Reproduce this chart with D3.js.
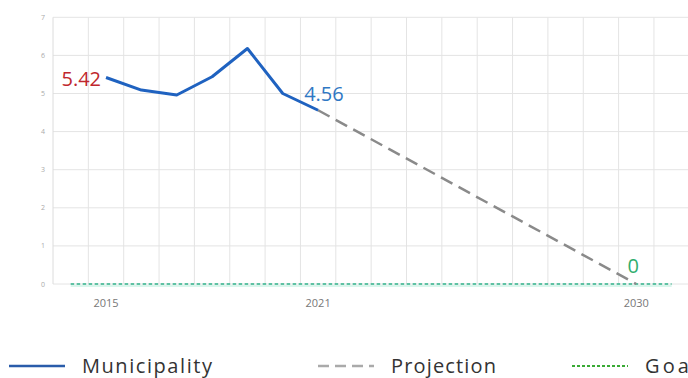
<!DOCTYPE html>
<html><head><meta charset="utf-8">
<script src="https://cdn.jsdelivr.net/npm/d3@7"></script>
<style>html,body{margin:0;padding:0;background:#fff;overflow:hidden}</style>
</head><body>
<svg id="c" width="688" height="378"></svg>
<script>
const years = [2015, 2016, 2017, 2018, 2019, 2020, 2021];
const municipality = [5.42, 5.09, 4.96, 5.44, 6.18, 5.0, 4.56];
const projYears = [2021, 2030];
const projection = [4.56, 0];
const goalYears = [2014, 2031];
const goal = [0, 0];
const yTicks = [0, 1, 2, 3, 4, 5, 6, 7];
const xLabels = [2015, 2021, 2030];
const legendItems = ["Municipality", "Projection", "Goal"];

const svg = d3.select("#c");
const x = d3.scaleLinear().domain([2013.5, 2031.5]).range([53, 689.3]);
const y = d3.scaleLinear().domain([0, 7]).range([284, 17.3]);

// grid
const gridX = d3.range(2014.5, 2032, 1);
svg.append("g").selectAll("line").data(gridX).join("line")
  .attr("x1", d => x(d)).attr("x2", d => x(d)).attr("y1", y(7)).attr("y2", y(0))
  .attr("stroke", "#e4e4e4").attr("stroke-width", 1);
svg.append("g").selectAll("line").data(yTicks).join("line")
  .attr("x1", x(2013.5)).attr("x2", 688).attr("y1", d => y(d)).attr("y2", d => y(d))
  .attr("stroke", "#e4e4e4").attr("stroke-width", 1);
svg.append("line").attr("x1", x(2013.5)).attr("x2", x(2013.5)).attr("y1", y(7)).attr("y2", y(0))
  .attr("stroke", "#dcdcdc");

// y tick labels
svg.append("g").selectAll("text").data(yTicks).join("text")
  .attr("x", 45).attr("y", d => y(d) + 2.5).attr("text-anchor", "end")
  .attr("font-family", "Open Sans, sans-serif").attr("font-size", 7).attr("fill", "#aaa")
  .text(d => d);

// x labels
svg.append("g").selectAll("text").data(xLabels).join("text")
  .attr("x", d => x(d)).attr("y", 307).attr("text-anchor", "middle")
  .attr("font-family", "Open Sans, sans-serif").attr("font-size", 11).attr("fill", "#777")
  .text(d => d);

// baseline glow + goal
svg.append("line").attr("x1", x(2014)).attr("x2", x(2031)).attr("y1", y(0) + 2).attr("y2", y(0) + 2)
  .attr("stroke", "#d9f6ec").attr("stroke-width", 2);
const line = d3.line().x(d => x(d[0])).y(d => y(d[1]));
svg.append("path").datum(goalYears.map((yr, i) => [yr, goal[i]]))
  .attr("d", line).attr("fill", "none").attr("stroke", "#2fb38a").attr("stroke-width", 1.6)
  .attr("stroke-dasharray", "3.5,2.5");

// projection
svg.append("path").datum(projYears.map((yr, i) => [yr, projection[i]]))
  .attr("d", line).attr("fill", "none").attr("stroke", "#8a8a8a").attr("stroke-width", 2.5)
  .attr("stroke-dasharray", "13,7");

// municipality
svg.append("path").datum(years.map((yr, i) => [yr, municipality[i]]))
  .attr("d", line).attr("fill", "none").attr("stroke", "#1f62c0").attr("stroke-width", 3)
  .attr("stroke-linejoin", "round");

// value labels
svg.append("text").attr("x", x(2015) - 5).attr("y", y(municipality[0]) + 9)
  .attr("text-anchor", "end").attr("font-family", "Open Sans, sans-serif").attr("font-size", 20)
  .attr("fill", "#c0272d").text(municipality[0].toFixed(2));
svg.append("text").attr("x", x(2021) - 14).attr("y", y(municipality[6]) - 9)
  .attr("text-anchor", "start").attr("font-family", "Open Sans, sans-serif").attr("font-size", 20)
  .attr("fill", "#2f78c4").text(municipality[6].toFixed(2));
svg.append("text").attr("x", x(2030) - 3).attr("y", y(0) - 11)
  .attr("text-anchor", "middle").attr("font-family", "Open Sans, sans-serif").attr("font-size", 20)
  .attr("fill", "#2fae6e").text(projection[1]);

// legend
const lg = svg.append("g");
const legX = [9, 318, 572];
const legLen = [130, 105, 52];
const legStyles = [
  {stroke: "#2a5caa", dash: null, w: 2.5},
  {stroke: "#aaaaaa", dash: "11,6", w: 2.5},
  {stroke: "#3aaa35", dash: "3,2", w: 2}
];
legendItems.forEach((t, i) => {
  lg.append("line").attr("x1", legX[i]).attr("x2", legX[i] + 56).attr("y1", 366).attr("y2", 366)
    .attr("stroke", legStyles[i].stroke).attr("stroke-width", legStyles[i].w)
    .attr("stroke-dasharray", legStyles[i].dash);
  lg.append("text").attr("x", legX[i] + 73).attr("y", 373)
    .attr("font-family", "Open Sans, sans-serif").attr("font-size", 20).attr("fill", "#333")
    .attr("textLength", legLen[i]).attr("lengthAdjust", "spacing")
    .text(t);
});
</script>
</body></html>
